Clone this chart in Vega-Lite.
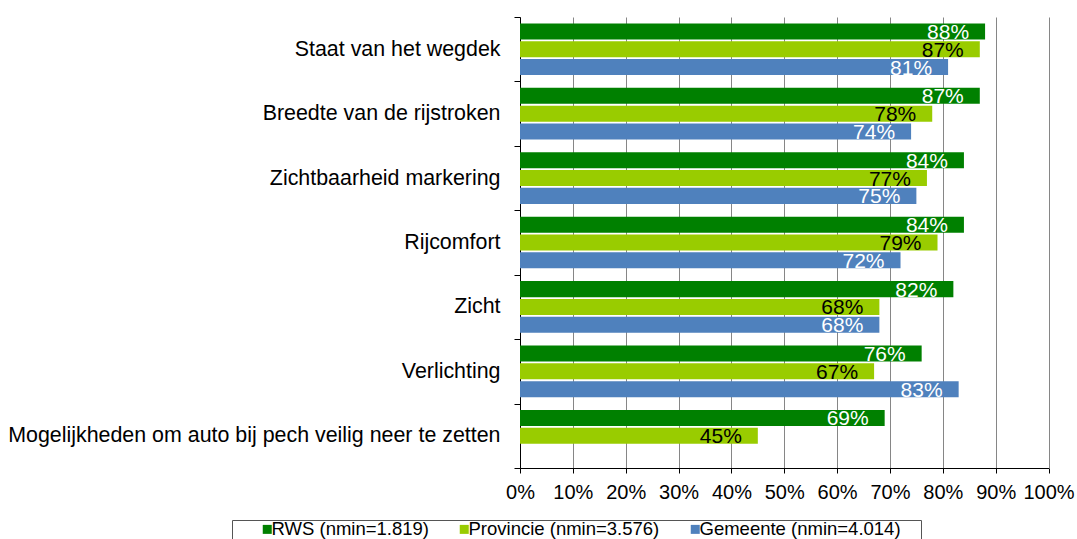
{
  "$schema": "https://vega.github.io/schema/vega-lite/v6.json",
  "width": 528.5,
  "height": 451,
  "autosize": {"type": "none"},
  "padding": {"left": 520, "top": 17, "right": 28.5, "bottom": 71},
  "background": "white",
  "config": {
    "font": "Liberation Sans",
    "view": {"stroke": null},
    "axis": {"labelFont": "Liberation Sans", "labelColor": "black"}
  },
  "data": {
    "values": [
      {"item": "Staat van het wegdek", "series": "RWS (nmin=1.819)", "value": 0.88},
      {"item": "Staat van het wegdek", "series": "Provincie (nmin=3.576)", "value": 0.87},
      {"item": "Staat van het wegdek", "series": "Gemeente (nmin=4.014)", "value": 0.81},
      {"item": "Breedte van de rijstroken", "series": "RWS (nmin=1.819)", "value": 0.87},
      {"item": "Breedte van de rijstroken", "series": "Provincie (nmin=3.576)", "value": 0.78},
      {"item": "Breedte van de rijstroken", "series": "Gemeente (nmin=4.014)", "value": 0.74},
      {"item": "Zichtbaarheid markering", "series": "RWS (nmin=1.819)", "value": 0.84},
      {"item": "Zichtbaarheid markering", "series": "Provincie (nmin=3.576)", "value": 0.77},
      {"item": "Zichtbaarheid markering", "series": "Gemeente (nmin=4.014)", "value": 0.75},
      {"item": "Rijcomfort", "series": "RWS (nmin=1.819)", "value": 0.84},
      {"item": "Rijcomfort", "series": "Provincie (nmin=3.576)", "value": 0.79},
      {"item": "Rijcomfort", "series": "Gemeente (nmin=4.014)", "value": 0.72},
      {"item": "Zicht", "series": "RWS (nmin=1.819)", "value": 0.82},
      {"item": "Zicht", "series": "Provincie (nmin=3.576)", "value": 0.68},
      {"item": "Zicht", "series": "Gemeente (nmin=4.014)", "value": 0.68},
      {"item": "Verlichting", "series": "RWS (nmin=1.819)", "value": 0.76},
      {"item": "Verlichting", "series": "Provincie (nmin=3.576)", "value": 0.67},
      {"item": "Verlichting", "series": "Gemeente (nmin=4.014)", "value": 0.83},
      {"item": "Mogelijkheden om auto bij pech veilig neer te zetten", "series": "RWS (nmin=1.819)", "value": 0.69},
      {"item": "Mogelijkheden om auto bij pech veilig neer te zetten", "series": "Provincie (nmin=3.576)", "value": 0.45}
    ]
  },
  "encoding": {
    "y": {
      "field": "item",
      "type": "nominal",
      "sort": null,
      "scale": {"paddingInner": 0, "paddingOuter": 0},
      "axis": {
        "title": null,
        "tickBand": "extent",
        "tickSize": 6,
        "tickColor": "black",
        "domainColor": "black",
        "labelFontSize": 21.4,
        "labelPadding": 14,
        "labelLimit": 600,
        "grid": false
      }
    },
    "yOffset": {
      "field": "series",
      "type": "nominal",
      "sort": ["RWS (nmin=1.819)", "Provincie (nmin=3.576)", "Gemeente (nmin=4.014)"],
      "scale": {"domain": ["RWS (nmin=1.819)", "Provincie (nmin=3.576)", "Gemeente (nmin=4.014)"], "paddingInner": 0.1, "paddingOuter": 0.36}
    },
    "x": {
      "field": "value",
      "type": "quantitative",
      "scale": {"domain": [0, 1], "nice": false},
      "axis": {
        "title": null,
        "format": ".0%",
        "values": [0, 0.1, 0.2, 0.3, 0.4, 0.5, 0.6, 0.7, 0.8, 0.9, 1],
        "grid": true,
        "gridColor": "#868686",
        "gridOpacity": 1,
        "tickColor": "black",
        "tickSize": 5,
        "domainColor": "black",
        "labelFontSize": 20,
        "labelPadding": 9,
        "labelFlush": false
      }
    }
  },
  "layer": [
    {
      "mark": {"type": "bar"},
      "encoding": {
        "color": {
          "field": "series",
          "type": "nominal",
          "sort": ["RWS (nmin=1.819)", "Provincie (nmin=3.576)", "Gemeente (nmin=4.014)"],
          "scale": {"domain": ["RWS (nmin=1.819)", "Provincie (nmin=3.576)", "Gemeente (nmin=4.014)"], "range": ["#008000", "#99CC00", "#4F81BD"]},
          "legend": {
            "title": " ",
            "titleOrient": "right",
            "titleFontSize": 30,
            "titleBaseline": "top",
            "titlePadding": 20,
            "orient": "none",
            "legendX": -288,
            "legendY": 503,
            "direction": "horizontal",
            "columns": 3,
            "strokeColor": "#555555",
            "padding": 0,
            "symbolOffset": 26,
            "symbolType": "square",
            "symbolSize": 81,
            "symbolStrokeWidth": 0,
            "labelFont": "Liberation Sans",
            "labelFontSize": 18.5,
            "labelColor": "black",
            "labelOffset": -5,
            "labelLimit": 400,
            "columnPadding": -3
          }
        }
      }
    },
    {
      "mark": {"type": "text", "align": "right", "baseline": "middle", "dx": -16, "dy": 1.5, "fontSize": 21, "font": "Liberation Sans"},
      "encoding": {
        "text": {"field": "value", "type": "quantitative", "format": ".0%"},
        "color": {
          "condition": {"test": "datum.series === 'Provincie (nmin=3.576)'", "value": "black"},
          "value": "white"
        }
      }
    }
  ]
}
